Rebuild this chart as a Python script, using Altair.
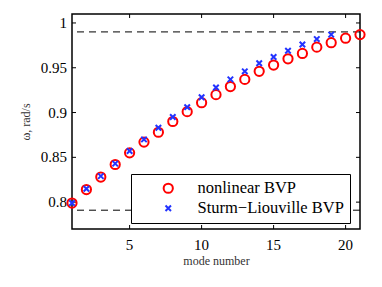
import altair as alt
import pandas as pd

modes_nl = list(range(1, 22))
omega_nl = [0.799, 0.814, 0.828, 0.842, 0.855, 0.867, 0.878, 0.890, 0.901, 0.911,
            0.920, 0.929, 0.937, 0.946, 0.953, 0.960, 0.966, 0.973, 0.978, 0.983, 0.987]
modes_sl = list(range(1, 20))
omega_sl = [0.799, 0.815, 0.829, 0.843, 0.857, 0.870, 0.883, 0.895, 0.906, 0.917,
            0.928, 0.937, 0.946, 0.955, 0.962, 0.969, 0.976, 0.982, 0.987]
series_names = ["nonlinear BVP", "Sturm\u2212Liouville BVP"]
bounds = [0.99, 0.791]
x_ticks = [5, 10, 15, 20]
x_tick_labels = ["5", "10", "15", "20"]
y_ticks = [0.8, 0.85, 0.9, 0.95, 1.0]
y_tick_labels = ["0.8", "0.85", "0.9", "0.95", "1"]

df = pd.DataFrame(
    {"mode": modes_nl + modes_sl,
     "omega": omega_nl + omega_sl,
     "series": [series_names[0]] * len(modes_nl) + [series_names[1]] * len(modes_sl)}
)
df_bounds = pd.DataFrame({"b": bounds})
df_xt = pd.DataFrame({"t": x_ticks, "lab": x_tick_labels})
df_yt = pd.DataFrame({"t": y_ticks, "lab": y_tick_labels})

W, H = 288, 215
FONT = "Liberation Serif"
xs = alt.Scale(domain=[1, 21], nice=False, zero=False)
ys = alt.Scale(domain=[0.77, 1.01], nice=False, zero=False)

xax = alt.Axis(values=x_ticks, ticks=False, domain=False, grid=False, labels=False,
               title="mode number", titlePadding=26)
yax = alt.Axis(values=y_ticks, ticks=False, domain=False, grid=False, labels=False,
               title="\u03c9, rad/s", titleX=-40, titleY=H / 2)

xshape = "M-1,-1L1,1M1,-1L-1,1"

dashes = alt.Chart(df_bounds).mark_rule(color="black", strokeWidth=1, strokeDash=[7, 5]).encode(
    y=alt.Y("b:Q", scale=ys, axis=yax)
)

points = alt.Chart(df).mark_point(filled=False, strokeWidth=2, opacity=1).encode(
    x=alt.X("mode:Q", scale=xs, axis=xax),
    y=alt.Y("omega:Q", scale=ys, axis=yax),
    color=alt.Color("series:N", sort=series_names,
                    scale=alt.Scale(domain=series_names, range=["#ff0000", "#2233ff"]),
                    legend=alt.Legend(title=None, orient="none", legendX=59, legendY=160,
                                      strokeColor="black", padding=6, fillColor="white",
                                      labelFontSize=16.5, labelColor="black",
                                      symbolStrokeWidth=2, symbolOffset=23, symbolOpacity=1,
                                      labelOffset=21, rowPadding=3, labelLimit=300)),
    shape=alt.Shape("series:N", sort=series_names,
                    scale=alt.Scale(domain=series_names, range=["circle", xshape])),
    size=alt.Size("series:N", sort=series_names,
                  scale=alt.Scale(domain=series_names, range=[85, 30])),
)

tb = alt.Chart(df_xt).mark_rule(color="black", strokeWidth=1).encode(
    x=alt.X("t:Q", scale=xs), y=alt.value(H), y2=alt.value(H - 4))
tt = alt.Chart(df_xt).mark_rule(color="black", strokeWidth=1).encode(
    x=alt.X("t:Q", scale=xs), y=alt.value(0), y2=alt.value(4))
tl = alt.Chart(df_yt).mark_rule(color="black", strokeWidth=1).encode(
    y=alt.Y("t:Q", scale=ys), x=alt.value(0), x2=alt.value(4))
tr = alt.Chart(df_yt).mark_rule(color="black", strokeWidth=1).encode(
    y=alt.Y("t:Q", scale=ys), x=alt.value(W), x2=alt.value(W - 4))

xlab = alt.Chart(df_xt).mark_text(font=FONT, fontSize=15, color="black",
                                  align="center", baseline="middle").encode(
    x=alt.X("t:Q", scale=xs), y=alt.value(H + 16), text="lab:N")
ylab = alt.Chart(df_yt).mark_text(font=FONT, fontSize=15, color="black",
                                  align="right", baseline="middle").encode(
    y=alt.Y("t:Q", scale=ys), x=alt.value(-5), text="lab:N")

chart = alt.layer(dashes, tb, tt, tl, tr, xlab, ylab, points).properties(
    width=W, height=H,
    autosize=alt.AutoSizeParams(type="none"),
    padding={"left": 64, "top": 6, "right": 14, "bottom": 50},
).configure(
    background="white", font=FONT
).configure_view(
    stroke="black", strokeWidth=1.5
).configure_axis(
    titleFont=FONT, titleFontSize=12, titleFontWeight="normal", titleColor="#333333"
).configure_legend(
    labelFont=FONT
)

chart.save("out.html", embed_options={"renderer": "svg", "actions": False})
